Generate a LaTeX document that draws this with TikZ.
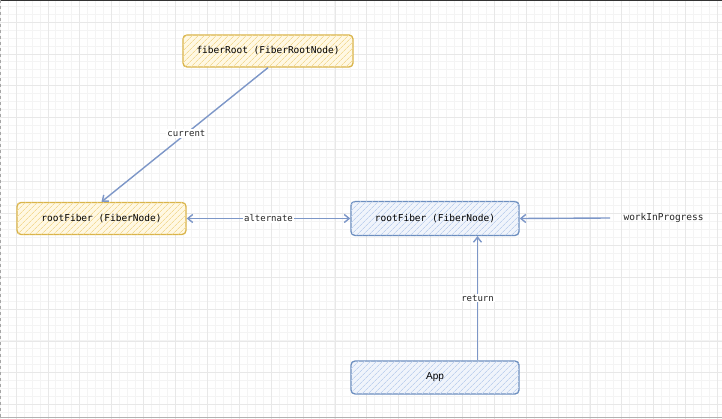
\documentclass[tikz,border=0pt]{standalone}
\usepackage{fontspec}
\setmonofont{DejaVu Sans Mono}
\setsansfont{Liberation Sans}
\usetikzlibrary{arrows.meta,patterns.meta}
\definecolor{ybord}{HTML}{D9B44A}
\definecolor{yfill}{HTML}{FFF8E3}
\definecolor{yhatch}{HTML}{F3DA95}
\definecolor{bbord}{HTML}{6C8EBF}
\definecolor{bfill}{HTML}{F0F4FB}
\definecolor{bhatch}{HTML}{BFD1EE}
\definecolor{arrowc}{HTML}{7D97C8}
\definecolor{gridminor}{HTML}{F4F4F4}
\definecolor{gridmajor}{HTML}{E8E8E8}
\tikzset{
  ybox/.style={draw=ybord, line width=1.3pt, rounded corners=4pt, fill=yfill,
    postaction={pattern={Lines[angle=45,distance=4pt,line width=0.7pt]}, pattern color=yhatch},
    minimum height=32pt, inner sep=0pt, font=\ttfamily\fontsize{9.5}{11}\selectfont},
  bbox/.style={draw=bbord, line width=1.3pt, rounded corners=4pt, fill=bfill,
    postaction={pattern={Lines[angle=45,distance=4pt,line width=0.7pt]}, pattern color=bhatch},
    minimum height=34pt, inner sep=0pt, font=\ttfamily\fontsize{9.5}{11}\selectfont},
  conn/.style={draw=arrowc, line width=1.4pt, -{Straight Barb[length=5pt,width=8pt]}},
  lbl/.style={fill=white, inner sep=1pt, font=\ttfamily\fontsize{9}{11}\selectfont, text=black!85},
}
\begin{document}
\begin{tikzpicture}[x=1pt,y=-1pt]
\useasboundingbox (0,0) rectangle (722,419);
\fill[white] (0,0) rectangle (722,419);
% grid
\foreach \i in {0,...,90} {\draw[gridminor, line width=0.6pt] (\i*7.97,0) -- (\i*7.97,419);}
\foreach \j in {-1,...,53} {\draw[gridminor, line width=0.6pt] (0,6+\j*7.97) -- (722,6+\j*7.97);}
\foreach \i in {0,...,22} {\draw[gridmajor, line width=0.6pt] (16+\i*31.88,0) -- (16+\i*31.88,419);}
\foreach \j in {0,...,13} {\draw[gridmajor, line width=0.6pt] (0,22+\j*31.88) -- (722,22+\j*31.88);}
\draw[black!80, line width=2pt] (0,0) -- (722,0);
\draw[black!30, line width=1pt] (0,417.5) -- (722,417.5);
\draw[black!35, line width=1pt, dashed] (0.5,0) -- (0.5,419);
% nodes
\node[ybox, minimum width=170pt] (root) at (268,51) {fiberRoot (FiberRootNode)};
\node[ybox, minimum width=169pt] (cur) at (101.5,218.5) {rootFiber (FiberNode)};
\node[bbox, minimum width=168pt] (wip) at (435,218.5) {rootFiber (FiberNode)};
\node[bbox, minimum width=168pt, minimum height=33pt, font=\sffamily\fontsize{10}{12}\selectfont] (app) at (435,377.5) {App};
\node[font=\ttfamily\fontsize{9.5}{11}\selectfont, text=black!85, anchor=west] (wiplbl) at (620,218) {workInProgress};
\coordinate (wipstart) at (610,218);
% connectors
\draw[conn] (root.south) -- node[lbl, pos=0.49] {current} (cur.north);
\draw[conn, {Straight Barb[length=5pt,width=8pt]}-{Straight Barb[length=5pt,width=8pt]}] (cur.east) -- node[lbl] {alternate} (wip.west);
\draw[conn] (wipstart) -- (wip.east);
\draw[conn] (app.north -| 477.5,0) -- node[lbl] {return} (wip.south -| 477.5,0);
\end{tikzpicture}
\end{document}
